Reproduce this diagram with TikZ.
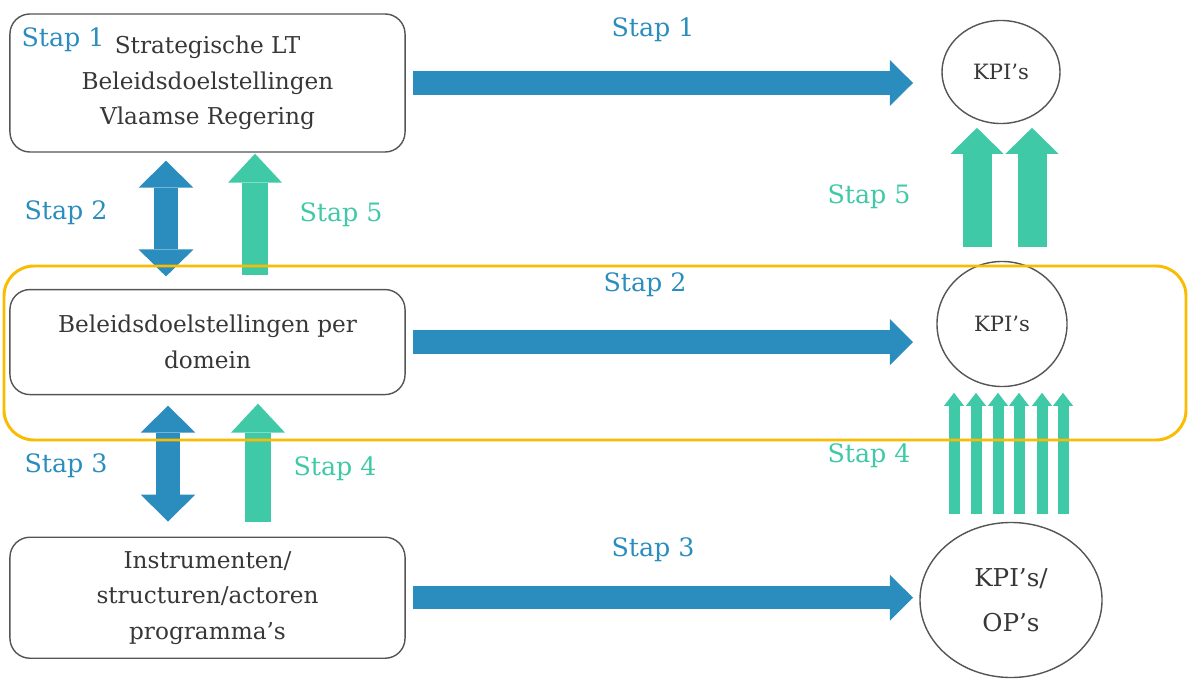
\documentclass[tikz,border=0pt]{standalone}
\usepackage{fontspec}
\setmainfont{DejaVu Serif}
\usepackage{tikz}
\usetikzlibrary{shapes,arrows.meta,positioning}
\definecolor{stapblue}{RGB}{42,141,190}
\definecolor{stapgreen}{RGB}{64,201,166}
\definecolor{framegold}{RGB}{250,188,0}
\definecolor{boxline}{RGB}{85,85,85}
\definecolor{boxtext}{RGB}{55,55,55}
\tikzstyle{box} = [draw=boxline, rounded corners=0.5cm, line width=1pt, align=center,
    text=boxtext, font=\fontsize{16.5}{25.2}\selectfont, minimum width=9.875cm]
\tikzstyle{kpi} = [draw=boxline, ellipse, line width=1pt, align=center, inner sep=0pt,
    text=boxtext, font=\fontsize{15}{22}\selectfont]
\tikzstyle{stap} = [font=\fontsize{18}{20}\selectfont]
\tikzstyle{flowarrow} = [draw=stapblue, line width=16.5pt,
    -{Triangle[width=32.7pt,length=16.4pt,line width=0pt]}]
\tikzstyle{twowayarrow} = [draw=stapblue, line width=16.4pt,
    {Triangle[width=39pt,length=19.2pt,line width=0pt]}-{Triangle[width=39pt,length=19.2pt,line width=0pt]}]
\tikzstyle{backarrow} = [draw=stapgreen, line width=18.5pt,
    -{Triangle[width=38.4pt,length=20.6pt,line width=0pt]}]
\tikzstyle{kpiarrow} = [draw=stapgreen, line width=20.6pt,
    -{Triangle[width=37.7pt,length=18.5pt,line width=0pt]}]
\tikzstyle{kpithin} = [draw=stapgreen, line width=7.8pt,
    -{Triangle[width=14.2pt,length=9.2pt,line width=0pt]}]

\begin{document}
\begin{tikzpicture}[x=0.025cm, y=-0.025cm, node distance=3cm]
  \useasboundingbox (0,0) rectangle (1188,681);
  \node [box, minimum height=3.45cm] (b1) at (207.5,83)
    {Strategische LT\\Beleidsdoelstellingen\\Vlaamse Regering};
  \node [box, minimum height=2.625cm, below of=b1, node distance=6.475cm] (b2)
    {Beleidsdoelstellingen per\\domein};
  \node [box, minimum height=3.025cm, below of=b2, node distance=6.39cm] (b3)
    {Instrumenten/\\structuren/actoren\\programma’s};
  \node [kpi, minimum width=2.95cm, minimum height=2.575cm] (k1) at (1001,72) {KPI’s};
  \node [kpi, minimum width=3.25cm, minimum height=3.125cm] (k2) at (1002,324) {KPI’s};
  \node [kpi, minimum width=4.55cm, minimum height=3.875cm, font=\fontsize{17.5}{32}\selectfont]
    (k3) at (1011,600) {KPI’s/\\OP’s};

  \node [stap, text=stapblue] (s1in) at (63,40) {Stap 1};
  \node [stap, text=stapblue] (s1) at (653,30) {Stap 1};
  \node [stap, text=stapblue] (s2) at (645,285) {Stap 2};
  \node [stap, text=stapblue] (s3) at (653,550) {Stap 3};
  \node [stap, text=stapblue] (s2l) at (66,213) {Stap 2};
  \node [stap, text=stapblue] (s3l) at (66,466) {Stap 3};
  \node [stap, text=stapgreen] (s5l) at (341,215) {Stap 5};
  \node [stap, text=stapgreen] (s4l) at (335,469) {Stap 4};
  \node [stap, text=stapgreen] (s5r) at (869,197) {Stap 5};
  \node [stap, text=stapgreen] (s4r) at (869,456) {Stap 4};

  \coordinate (tip) at (913,0);
  \draw [flowarrow, shorten <=0.175cm] (b1.east) -- (b1.east -| tip);
  \draw [flowarrow, shorten <=0.175cm] (b2.east) -- (b2.east -| tip);
  \draw [flowarrow, shorten <=0.175cm] (b3.east) -- (b3.east -| tip);

  \coordinate (v1) at (166,0);
  \coordinate (v2) at (255,0);
  \coordinate (v3) at (168,0);
  \coordinate (v4) at (258,0);
  \draw [twowayarrow, shorten <=0.2cm, shorten >=0.31cm] (b1.south -| v1) -- (b2.north -| v1);
  \draw [backarrow, shorten <=0.34cm, shorten >=0.025cm] (b2.north -| v2) -- (b1.south -| v2);
  \draw [twowayarrow, shorten <=0.26cm, shorten >=0.375cm] (b2.south -| v3) -- (b3.north -| v3);
  \draw [backarrow, shorten <=0.375cm, shorten >=0.21cm] (b3.north -| v4) -- (b2.south -| v4);

  \coordinate (r1) at (977,0);
  \coordinate (r2) at (1032,0);
  \draw [kpiarrow, shorten <=0.34cm, shorten >=0.09cm] (k2.north -| r1) -- (k1.south -| r1);
  \draw [kpiarrow, shorten <=0.34cm, shorten >=0.09cm] (k2.north -| r2) -- (k1.south -| r2);
  \foreach \x [count=\i] in {954,976,998,1019,1042,1063} {
    \coordinate (t\i) at (\x,0);
    \draw [kpithin, shorten <=0.19cm, shorten >=0.14cm] (k3.north -| t\i) -- (k2.south -| t\i);
  }

  \draw [framegold, line width=2.1pt, rounded corners=0.75cm] (4,266) rectangle (1186,440);
\end{tikzpicture}
\end{document}
